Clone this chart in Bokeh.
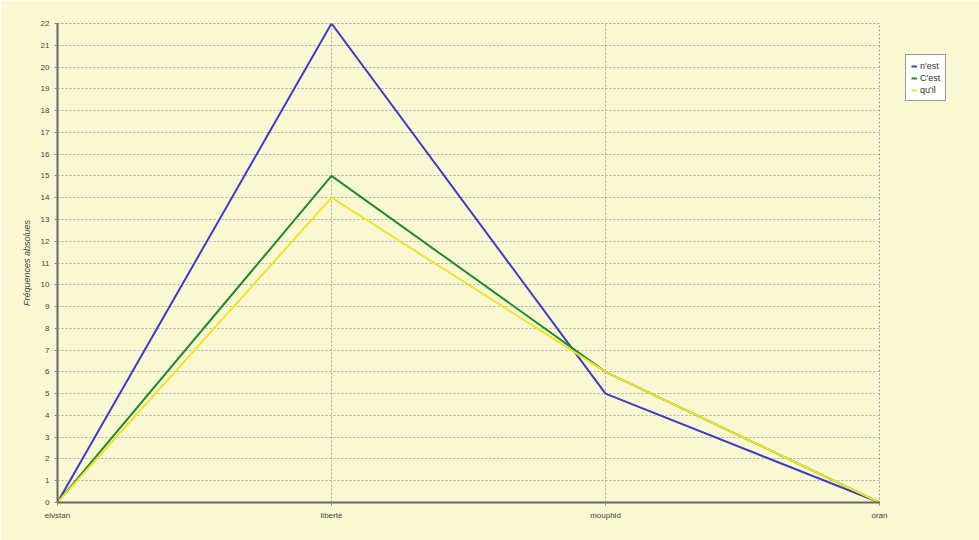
from bokeh.plotting import figure
from bokeh.models import Range1d, FixedTicker, Legend, LegendItem
from bokeh.embed import file_html
from bokeh.resources import INLINE

categories = ["elvstan", "liberté", "mouphid", "oran"]
series_names = ["n'est", "C'est", "qu'il"]
nest = [0, 22, 5, 0]
cest = [0, 15, 6, 0]
quil = [0, 14, 6, 0]
y_ticks = list(range(0, 23))

colors = ["#3c3cc8", "#1e8c28", "#f2e22a"]
bg = "#faf8d2"

p = figure(frame_width=822, frame_height=479, output_backend="svg", toolbar_location=None,
           x_range=Range1d(0, len(categories) - 1), y_range=Range1d(0, 22),
           min_border_left=57, min_border_right=0, min_border_top=23, min_border_bottom=38,
           background_fill_color=bg, border_fill_color=bg)
p.outline_line_color = "#999999"
p.outline_line_dash = "2 2"
p.outline_line_width = 1

xs = list(range(len(categories)))
renderers = []
for vals, c in zip([nest, cest, quil], colors):
    r = p.line(xs, vals, line_color=c, line_width=2)
    renderers.append(r)

p.xaxis.ticker = FixedTicker(ticks=xs)
p.xaxis.major_label_overrides = {i: c for i, c in enumerate(categories)}
p.yaxis.ticker = FixedTicker(ticks=y_ticks)

for ax in (p.xaxis, p.yaxis):
    ax.axis_line_color = "#666666"
    ax.axis_line_width = 2
    ax.major_tick_line_color = "#888888"
    ax.major_tick_out = 3
    ax.major_tick_in = 0
    ax.minor_tick_line_color = None
    ax.major_label_text_font_size = "8px"
    ax.major_label_text_color = "#444444"
    ax.major_label_text_font = "Liberation Sans"

p.yaxis.axis_label = "Fréquences absolues"
p.yaxis.axis_label_text_font_size = "9px"
p.yaxis.axis_label_text_font_style = "italic"
p.yaxis.axis_label_text_color = "#444444"
p.yaxis.axis_label_text_font = "Liberation Sans"
p.yaxis.axis_label_standoff = 6

p.xgrid.grid_line_color = "#aaaaaa"
p.xgrid.grid_line_dash = "2 2"
p.ygrid.grid_line_color = "#aaaaaa"
p.ygrid.grid_line_dash = "2 2"

legend = Legend(items=[LegendItem(label=n, renderers=[r]) for n, r in zip(series_names, renderers)],
                location=(26, 401))
legend.label_text_font_size = "9px"
legend.label_text_font = "Liberation Sans"
legend.label_text_color = "#333333"
legend.glyph_width = 6
legend.glyph_height = 10
legend.label_height = 11
legend.spacing = 1
legend.padding = 5
legend.margin = 0
legend.border_line_color = "#333333"
legend.border_line_width = 1
legend.background_fill_color = "#ffffff"
legend.label_standoff = 3
p.add_layout(legend, "right")

open("out.html", "w").write(file_html(p, INLINE))
